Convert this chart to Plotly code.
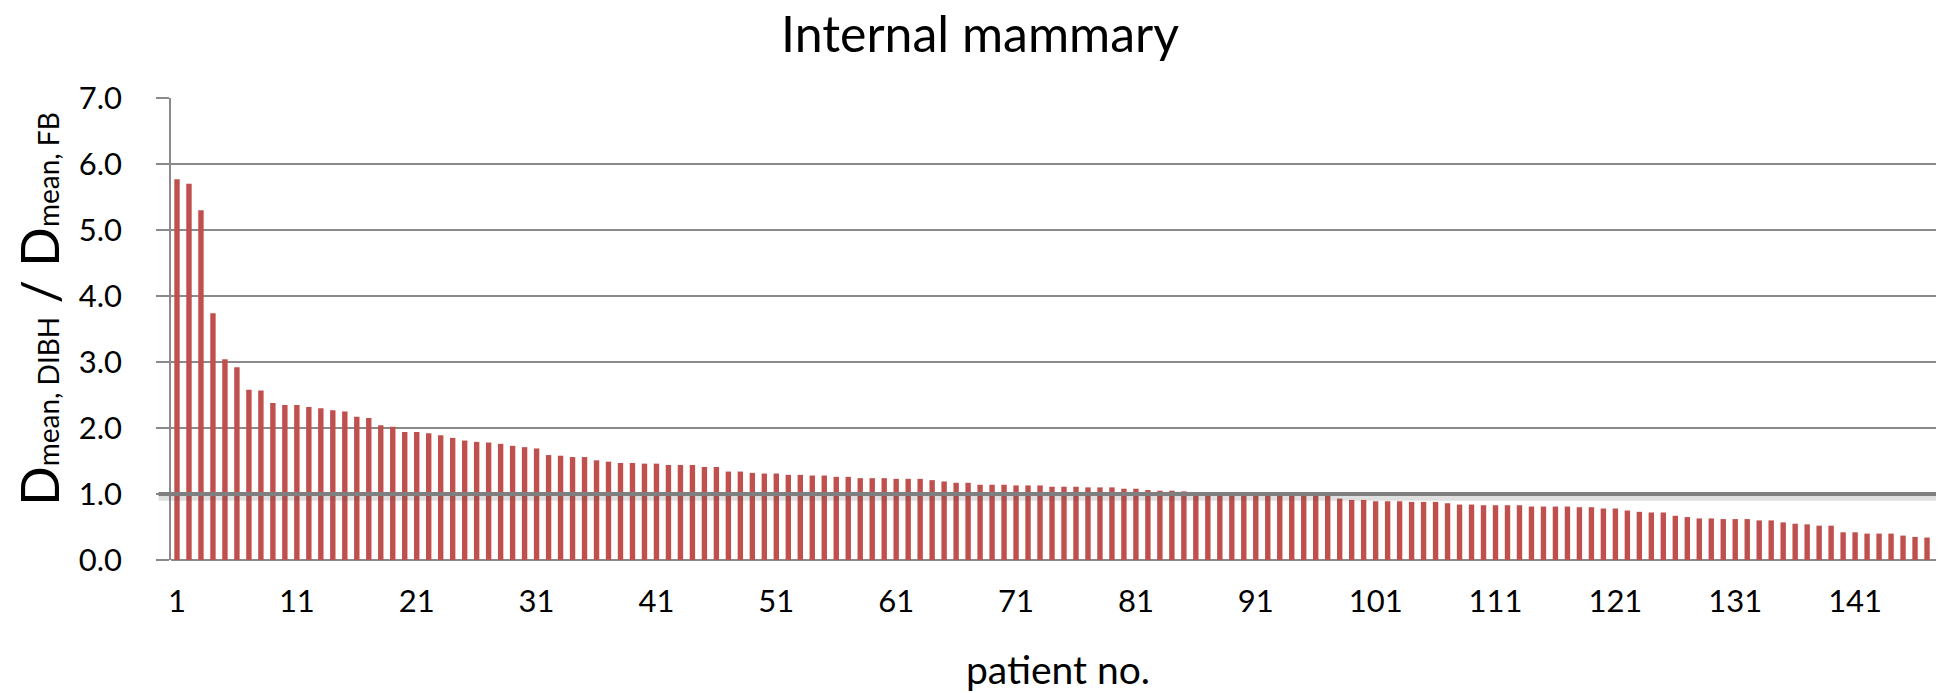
import plotly.graph_objects as go

patients = list(range(1, 149))
ratio = [
    5.77, 5.70, 5.30, 3.74, 3.04, 2.92,
    2.58, 2.57, 2.38, 2.35, 2.35, 2.32, 2.30, 2.27, 2.25, 2.17, 2.15, 2.04, 2.02, 1.94,
    1.94, 1.92, 1.89, 1.85, 1.81, 1.79, 1.78, 1.76, 1.73, 1.71,
    1.69, 1.59, 1.58, 1.56, 1.56, 1.51, 1.49, 1.47, 1.47, 1.46, 1.46, 1.44, 1.44, 1.44,
    1.41, 1.41, 1.34, 1.34, 1.32, 1.31, 1.31, 1.29, 1.29, 1.28, 1.28, 1.26, 1.26, 1.24,
    1.24, 1.24,
    1.23, 1.23, 1.23, 1.21, 1.19, 1.17, 1.17, 1.14, 1.14, 1.14, 1.13, 1.13, 1.13, 1.11,
    1.11, 1.11, 1.10, 1.10, 1.10, 1.08, 1.08, 1.06, 1.05, 1.05, 1.04,
    1.01, 1.00, 1.00, 1.00, 1.00, 0.99, 0.99, 0.99, 0.99, 0.98, 0.98, 0.98,
    0.93, 0.91, 0.91, 0.89, 0.89, 0.89, 0.88, 0.88, 0.88, 0.86, 0.84, 0.84, 0.83, 0.83,
    0.83, 0.83, 0.81, 0.81, 0.81, 0.81, 0.80, 0.80, 0.78,
    0.78, 0.75, 0.73, 0.72, 0.72, 0.67, 0.65, 0.63, 0.63, 0.62, 0.62, 0.62, 0.60, 0.60,
    0.57, 0.55, 0.54, 0.52, 0.52, 0.42, 0.42, 0.40, 0.40, 0.40, 0.37, 0.35, 0.34, 0.32,
]
x_tick_vals = list(range(1, 149, 10))
x_tick_text = [str(v) for v in x_tick_vals]
y_tick_vals = [0, 1, 2, 3, 4, 5, 6, 7]
y_tick_text = ["0.0", "1.0", "2.0", "3.0", "4.0", "5.0", "6.0", "7.0"]
reference_level = 1.0

FONT = "Lato"
GRID = "#8a8a8a"
BAR = "#C0504D"

fig = go.Figure()
fig.add_trace(go.Bar(x=patients, y=ratio, marker=dict(color=BAR, line=dict(width=0))))

# reference line at ratio = 1 with soft shadow
fig.add_shape(type="line", xref="paper", yref="y", x0=-0.007, x1=1.003,
              y0=reference_level - 0.05, y1=reference_level - 0.05,
              line=dict(color="rgba(80,80,80,0.18)", width=7), layer="above")
fig.add_shape(type="line", xref="paper", yref="y", x0=-0.007, x1=1.003,
              y0=reference_level, y1=reference_level,
              line=dict(color="#7f7f7f", width=4), layer="above")

sub = "<span style='font-size:28px'>{}</span>"
y_title = ("&nbsp;&nbsp;&nbsp;D" + sub.format("mean, DIBH") + " / D"
           + sub.format("mean, FB"))

fig.update_layout(
    width=1944, height=693,
    margin=dict(l=163, r=7, t=90, b=141),
    paper_bgcolor="white", plot_bgcolor="white",
    showlegend=False,
    bargap=0.55,
    font=dict(family=FONT, color="black"),
    title=dict(text="Internal mammary", x=0.5, xanchor="center", xref="container",
               y=1 - 26 / 693, yanchor="middle", yref="container",
               font=dict(family=FONT, size=50, color="black")),
    xaxis=dict(range=[0.5, 148.5], tickmode="array", tickvals=x_tick_vals,
               ticktext=x_tick_text, ticks="", showgrid=False, zeroline=False,
               showline=False, tickfont=dict(family=FONT, size=31),
               ticklabelstandoff=20, automargin=False,
               title=dict(text="patient no.", font=dict(family=FONT, size=39), standoff=38)),
    yaxis=dict(range=[0, 7], tickmode="array", tickvals=y_tick_vals, ticktext=y_tick_text,
               showgrid=True, gridcolor=GRID, gridwidth=1.6,
               zeroline=True, zerolinecolor=GRID, zerolinewidth=1.6,
               showline=True, linecolor=GRID, linewidth=1.6,
               ticks="outside", ticklen=13, tickcolor=GRID, tickwidth=1.6,
               ticklabelstandoff=28, automargin=False,
               tickfont=dict(family=FONT, size=31),
               title=dict(text=y_title, font=dict(family=FONT, size=52), standoff=40)),
)

fig.write_html("out.html")
